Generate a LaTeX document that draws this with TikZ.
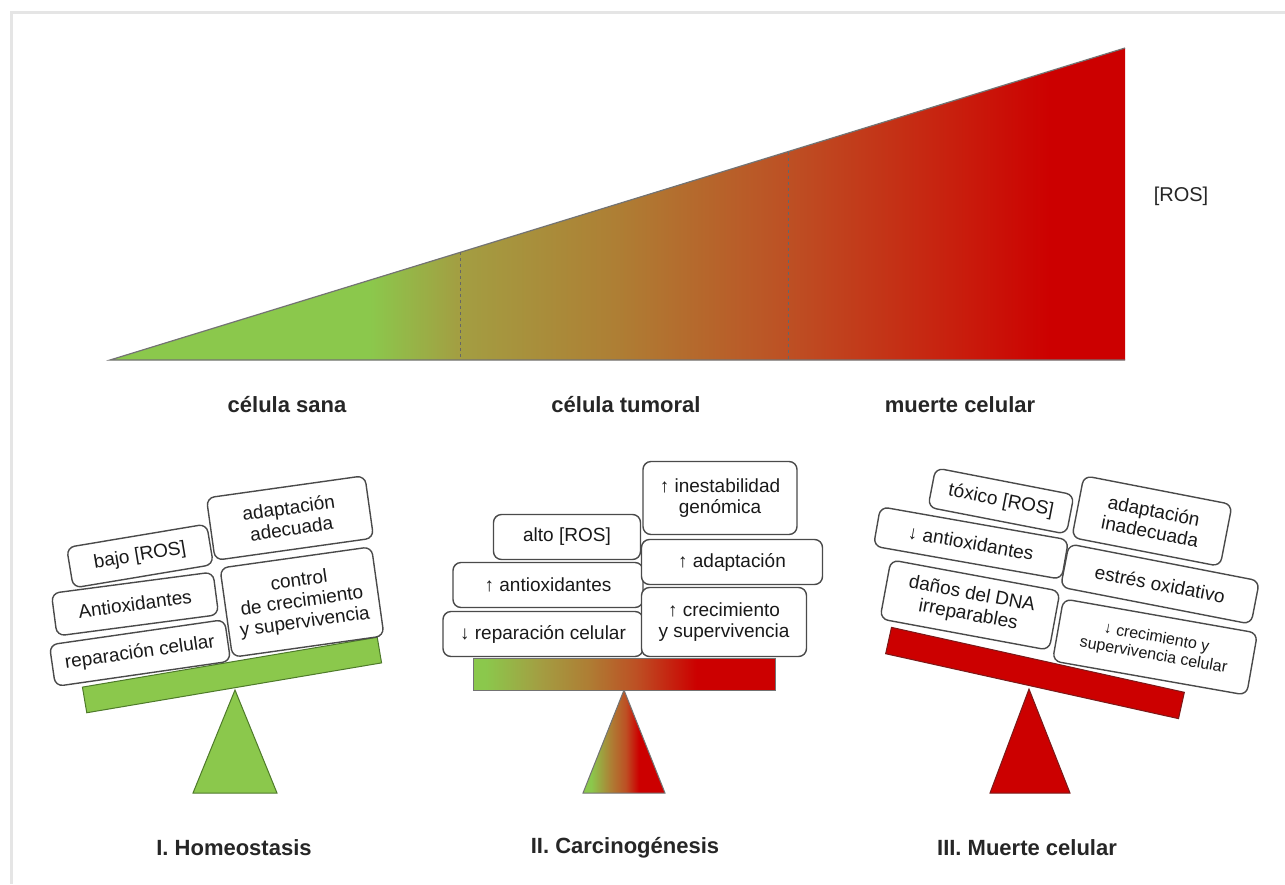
\documentclass[tikz,border=0pt]{standalone}
\usepackage{fontspec}
\setmainfont{Liberation Sans}
\newfontfamily\medfont{Liberation Sans}
\definecolor{lgreen}{HTML}{8BC84C}
\definecolor{dred}{HTML}{CC0000}
\definecolor{olv}{HTML}{A39E42}
\definecolor{brn}{HTML}{AE7E34}
\definecolor{rust}{HTML}{BD5024}
\definecolor{rr}{HTML}{C8200E}
\definecolor{gline}{HTML}{4E7A2A}
\definecolor{rline}{HTML}{7A1A1A}
\definecolor{boxline}{HTML}{4A4A4A}
\pgfdeclarehorizontalshading{rosgrad}{100bp}{color(0bp)=(lgreen); color(37.8bp)=(lgreen); color(42.2bp)=(olv); color(50bp)=(brn); color(58.4bp)=(rust); color(66.4bp)=(rr); color(71.3bp)=(dred); color(100bp)=(dred)}
\pgfdeclarehorizontalshading{beamgrad}{100bp}{color(0bp)=(lgreen); color(27bp)=(lgreen); color(36bp)=(olv); color(44bp)=(brn); color(52bp)=(rust); color(62bp)=(dred); color(100bp)=(dred)}
\pgfdeclarehorizontalshading{trigrad}{100bp}{color(0bp)=(lgreen); color(30bp)=(lgreen); color(42bp)=(brn); color(51bp)=(rust); color(59bp)=(dred); color(100bp)=(dred)}
\tikzset{
  tag/.style={draw=boxline, line width=1.4pt, fill=white, rounded corners=8pt,
    align=center, inner sep=2pt, text=black!90, font=\medfont\fontsize{19}{21}\selectfont},
  smalltag/.style={tag, font=\medfont\fontsize{16}{18}\selectfont},
  head/.style={font=\bfseries\fontsize{22}{26}\selectfont, text=black!85},
  beamgreen/.style={draw=gline, line width=1pt, fill=lgreen, inner sep=0pt},
  beamred/.style={draw=rline, line width=1pt, fill=dred, inner sep=0pt},
  beammix/.style={draw=black!55, line width=1pt, shade, shading=beamgrad, inner sep=0pt},
  guide/.style={dashed, black!60, line width=0.9pt},
}
\begin{document}
\begin{tikzpicture}[x=1pt,y=-1pt]
\useasboundingbox (0,0) rectangle (1285,884);
\fill[white] (0,0) rectangle (1285,884);
% light frame
\draw[black!10, line width=3pt] (11,884) -- (11,12) -- (1285,12);

% top gradient triangle
\coordinate (tl) at (110,360);
\coordinate (br) at (1125,360);
\coordinate (tr) at (1125,48);
\shade[shading=rosgrad] (tl) -- (br) -- (tr) -- cycle;
\draw[black!55, line width=1.2pt] (tr) -- (tl) -- (br);
\coordinate (d1t) at (460,252.4);
\coordinate (d1b) at (460,360);
\coordinate (d2t) at (788,151.6);
\coordinate (d2b) at (788,360);
\draw[guide] (d1t) -- (d1b);
\draw[guide] (d2t) -- (d2b);

\node[font=\medfont\fontsize{20}{24}\selectfont, text=black!85] (ros) at (1181,196) {[ROS]};
\node[head] (sana) at (287,405) {célula sana};
\node[head] (tumoral) at (626,405) {célula tumoral};
\node[head] (muerte) at (960,405) {muerte celular};

% ---------- I. Homeostasis ----------
\coordinate (a1) at (235,690);
\coordinate (b1l) at (193,793);
\coordinate (b1r) at (277,793);
\draw[gline, line width=1pt, fill=lgreen] (a1) -- (b1r) -- (b1l) -- cycle;
\node[beamgreen, rotate=9.6, minimum width=299pt, minimum height=26pt] (beam1) at (232,675) {};
\node[tag, rotate=9.5, minimum width=142pt, minimum height=41pt] (i-bajo) at (140,556) {bajo [ROS]};
\node[tag, rotate=7.5, minimum width=163pt, minimum height=43pt] (i-anti) at (135,604) {Antioxidantes};
\node[tag, rotate=8.2, minimum width=177pt, minimum height=42pt] (i-rep) at (140,653) {reparación celular};
\node[tag, rotate=8, minimum width=160pt, minimum height=63pt] (i-adap) at (290,518) {adaptación\\adecuada};
\node[tag, rotate=8, minimum width=153pt, minimum height=90pt] (i-ctrl) at (302,602) {control\\de crecimiento\\y supervivencia};
\node[head] (t1) at (234,848) {I. Homeostasis};

% ---------- II. Carcinogénesis ----------
\coordinate (a2) at (624,690);
\coordinate (b2l) at (583,793);
\coordinate (b2r) at (665,793);
\shade[shading=trigrad] (a2) -- (b2r) -- (b2l) -- cycle;
\draw[black!55, line width=1pt] (a2) -- (b2r) -- (b2l) -- cycle;
\node[beammix, minimum width=302pt, minimum height=32pt] (beam2) at (624,674) {};
\node[tag, minimum width=200pt, minimum height=45pt] (ii-rep) at (543,634) {↓ reparación celular};
\node[tag, minimum width=190pt, minimum height=45pt] (ii-anti) at (548,585) {↑ antioxidantes};
\node[tag, minimum width=147pt, minimum height=45pt] (ii-alto) at (567,537) {alto [ROS]};
\node[tag, minimum width=154pt, minimum height=73pt] (ii-ines) at (720,498) {↑ inestabilidad\\genómica};
\node[tag, minimum width=181pt, minimum height=45pt] (ii-adap) at (732,562) {↑ adaptación};
\node[tag, minimum width=165pt, minimum height=69pt] (ii-crec) at (724,622) {↑ crecimiento\\y supervivencia};
\node[head] (t2) at (625,848) {II. Carcinogénesis};

% ---------- III. Muerte celular ----------
\coordinate (a3) at (1029,689);
\coordinate (b3l) at (990,793);
\coordinate (b3r) at (1070,793);
\draw[rline, line width=1pt, fill=dred] (a3) -- (b3r) -- (b3l) -- cycle;
\node[beamred, rotate=-12.5, minimum width=300pt, minimum height=27pt] (beam3) at (1035,673) {};
\node[tag, rotate=-11, minimum width=141pt, minimum height=40pt] (iii-tox) at (1001,501) {tóxico [ROS]};
\node[tag, rotate=-10, minimum width=191pt, minimum height=40pt] (iii-anti) at (971,543) {↓ antioxidantes};
\node[tag, rotate=-10.5, minimum width=172pt, minimum height=60pt] (iii-dna) at (970,605) {daños del DNA\\irreparables};
\node[tag, rotate=-11, minimum width=151pt, minimum height=63pt] (iii-adap) at (1152,521) {adaptación\\inadecuada};
\node[tag, rotate=-11, minimum width=194pt, minimum height=44pt] (iii-est) at (1160,584) {estrés oxidativo};
\node[smalltag, rotate=-10, minimum width=197pt, minimum height=63pt] (iii-crec) at (1155,647) {↓ crecimiento y\\supervivencia celular};
\node[head] (t3) at (1027,848) {III. Muerte celular};
\end{tikzpicture}
\end{document}
